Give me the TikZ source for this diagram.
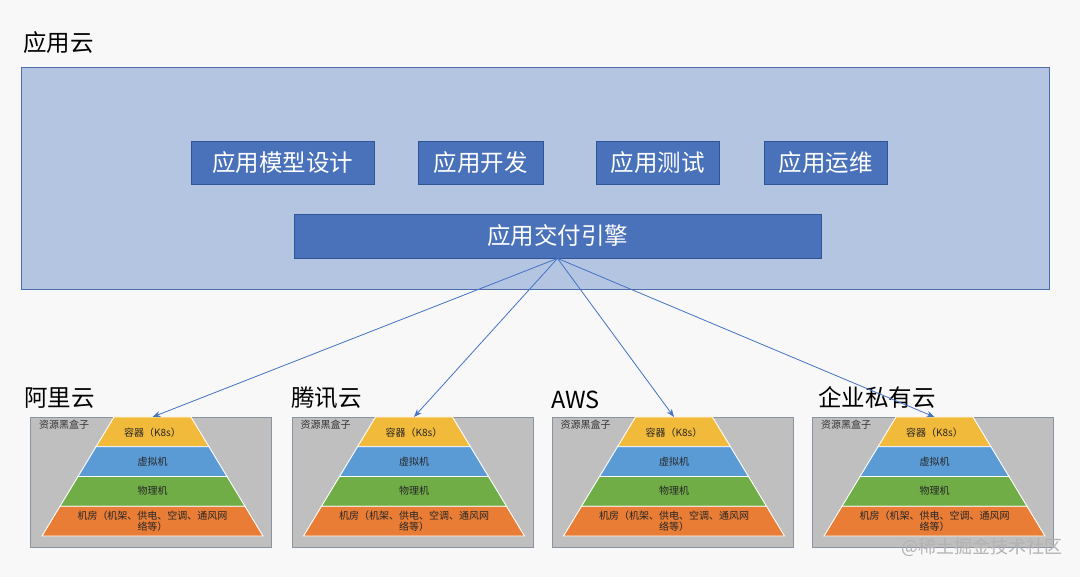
\documentclass[tikz,border=0pt]{standalone}
\usepackage{fontspec}
\setmainfont{Noto Sans CJK SC}
\usetikzlibrary{arrows.meta}
\definecolor{bgc}{HTML}{F8F8F8}
\definecolor{cloudfill}{HTML}{B4C5E2}
\definecolor{cloudline}{HTML}{4D6EAA}
\definecolor{boxfill}{HTML}{4A72BA}
\definecolor{boxline}{HTML}{2F5597}
\definecolor{panelfill}{HTML}{BFBFBF}
\definecolor{panelline}{HTML}{8A94A0}
\definecolor{lyellow}{HTML}{F2BA3A}
\definecolor{lblue}{HTML}{5B9BD5}
\definecolor{lgreen}{HTML}{70AD47}
\definecolor{lorange}{HTML}{E97D36}
\definecolor{arrowc}{HTML}{4472C4}
\tikzset{
  bigfont/.style={font=\fontsize{23.5}{25}\selectfont},
  smallfont/.style={font=\fontsize{10}{11.5}\selectfont},
  appbox/.style={draw=boxline, fill=boxfill, text=white, bigfont, minimum height=43pt, inner sep=0pt, line width=0.8pt},
  panelbox/.style={draw=panelline, fill=panelfill, minimum width=241pt, minimum height=130pt, inner sep=0pt, anchor=north west, line width=0.8pt},
  layer/.style={draw=white, line width=0.9pt},
  layertext/.style={smallfont, text=black!85, align=center, inner sep=0pt},
  link/.style={draw=arrowc, line width=0.8pt, -{Stealth[length=8pt,width=6pt]}},
}
\begin{document}
\begin{tikzpicture}[x=1pt,y=-1pt]
\fill[bgc] (0,0) rectangle (1080,577);
\useasboundingbox (0,0) rectangle (1080,577);

\node[bigfont, anchor=west, inner sep=0pt] (title) at (23,43) {应用云};
\node[draw=cloudline, fill=cloudfill, minimum width=1028pt, minimum height=222pt, inner sep=0pt, anchor=north west, line width=0.8pt] (cloud) at (21,67) {};

\node[appbox, minimum width=183pt] (model) at (282.5,162.5) {应用模型设计};
\node[appbox, minimum width=125pt] (dev) at (480.5,162.5) {应用开发};
\node[appbox, minimum width=123pt] (test) at (657.5,162.5) {应用测试};
\node[appbox, minimum width=123pt] (ops) at (825.5,162.5) {应用运维};
\node[appbox, minimum width=527pt, minimum height=44pt] (engine) at (557.5,236) {应用交付引擎};

\foreach \i/\ox/\lx/\lab in {1/30/24/阿里云, 2/291.5/291/腾讯云, 3/551.5/551/AWS, 4/812/818/企业私有云}{
  \node[bigfont, anchor=south west, inner sep=0pt] (lab\i) at (\lx,409) {\lab};
  \node[panelbox] (panel\i) at (\ox,417) {};
  \node[smallfont, anchor=west, inner sep=0pt, text=black!80] (bb\i) at (\ox+9,425) {资源黑盒子};
  \begin{scope}[shift={(\ox+122.5,417)}]
    \path[layer, fill=lyellow] (-38.5,0) -- (38.5,0) -- (56.5,29.75) -- (-56.5,29.75) -- cycle;
    \path[layer, fill=lblue] (-56.5,29.75) -- (56.5,29.75) -- (74.5,59.5) -- (-74.5,59.5) -- cycle;
    \path[layer, fill=lgreen] (-74.5,59.5) -- (74.5,59.5) -- (92.5,89.25) -- (-92.5,89.25) -- cycle;
    \path[layer, fill=lorange] (-92.5,89.25) -- (92.5,89.25) -- (110.5,119) -- (-110.5,119) -- cycle;
    \node[layertext] (c\i) at (0,15.5) {容器（K8s）};
    \node[layertext] (v\i) at (0,44.5) {虚拟机};
    \node[layertext] (p\i) at (0,73.5) {物理机};
    \node[layertext] (r\i) at (0,104) {机房（机架、供电、空调、通风网\\络等）};
    \coordinate (top\i) at (0,0);
  \end{scope}
}
\foreach \i in {1,2,3,4}{
  \draw[link] (engine.south) -- (top\i);
}
\node[anchor=west, inner sep=0pt, text=white!70!black, font=\fontsize{18}{20}\selectfont] (wm) at (901,547) {@稀土掘金技术社区};
\end{tikzpicture}
\end{document}
